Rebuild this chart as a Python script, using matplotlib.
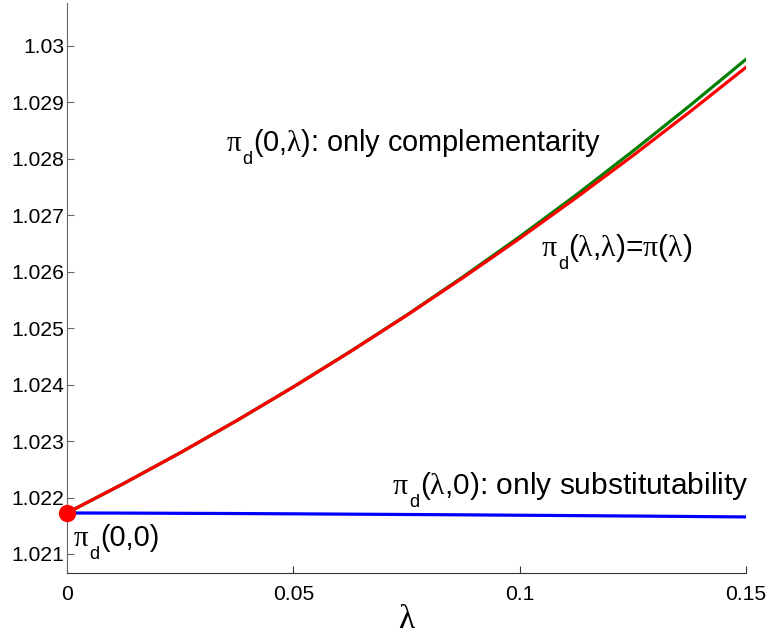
import matplotlib
matplotlib.use("Agg")
import matplotlib.pyplot as plt
import numpy as np

plt.rcParams['font.family'] = ['Liberation Sans', 'DejaVu Sans']
plt.rcParams['mathtext.fontset'] = 'custom'
plt.rcParams['mathtext.rm'] = 'Liberation Sans'
plt.rcParams['mathtext.it'] = 'Liberation Serif'
plt.rcParams['mathtext.default'] = 'it'

# lambda grid and the three curves
lam = [0, 0.0125, 0.025, 0.0375, 0.05, 0.0625, 0.075,
       0.0875, 0.1, 0.1125, 0.125, 0.1375, 0.15]
pi_0_lam = [1.021726, 1.022247, 1.022792, 1.023363, 1.023960, 1.024583, 1.025230,
            1.025911, 1.026621, 1.027362, 1.028137, 1.028938, 1.029765]
pi_lam_lam = [1.021726, 1.022247, 1.022792, 1.023363, 1.023958, 1.024580, 1.025225,
              1.025896, 1.026591, 1.027312, 1.028057, 1.028828, 1.029623]
pi_lam_0 = [1.021726, 1.021724, 1.021720, 1.021716, 1.021711, 1.021705, 1.021699,
            1.021693, 1.021686, 1.021679, 1.021672, 1.021664, 1.021656]
start_point = (0, 1.021726)

xticks = [0, 0.05, 0.1, 0.15]
xtick_labels = ['0', '0.05', '0.1', '0.15']
yticks = [1.021, 1.022, 1.023, 1.024, 1.025, 1.026, 1.027, 1.028, 1.029, 1.03]
ytick_labels = ['1.021', '1.022', '1.023', '1.024', '1.025', '1.026', '1.027',
                '1.028', '1.029', '1.03']

fig = plt.figure(figsize=(7.68, 6.36), dpi=100)
ax = fig.add_axes([0.0872, 0.0991, 0.8842, 0.8962])

ax.plot(lam, pi_0_lam, color='#008000', lw=2.3)
ax.plot(lam, pi_lam_lam, color='#ff0000', lw=2.3)
ax.plot(lam, pi_lam_0, color='#0000ff', lw=2.3)
ax.plot(*start_point, 'o', color='#ff0000', ms=11.5, clip_on=False, zorder=5)

ax.set_xlim(0, 0.15)
ax.set_ylim(1.020663, 1.030762)
ax.set_xticks(xticks)
ax.set_xticklabels(xtick_labels)
ax.set_yticks(yticks)
ax.set_yticklabels(ytick_labels)

for side in ['top', 'right']:
    ax.spines[side].set_visible(False)
ax.spines['left'].set_color('#666666')
ax.spines['bottom'].set_color('#333333')
ax.tick_params(axis='both', direction='in', length=5, labelsize=15.2)
ax.tick_params(axis='y', colors='#666666', labelcolor='black', pad=2)
ax.tick_params(axis='x', colors='#333333', labelcolor='black', pad=9)

ax.set_xlabel(r'$\lambda$', fontsize=24, labelpad=0)

fs = 20.8
sub_fs = 13
sub_dy = -9.5


def pi_d_label(x, y, rest, size=fs):
    # pi, a lowered "d", then the rest of the label on the same baseline
    t = ax.text(x, y, r'$\pi$', fontsize=size, va='baseline')
    d = ax.annotate('d', xy=(1, y), xycoords=(t, 'data'), xytext=(0.5, sub_dy),
                    textcoords='offset points', fontsize=sub_fs, va='baseline')
    ax.annotate(rest, xy=(1, y), xycoords=(d, 'data'), xytext=(0, 0),
                textcoords='offset points', fontsize=size, va='baseline')


pi_d_label(0.0351, 1.028146, r'(0,$\lambda$): only complementarity')
pi_d_label(0.1047, 1.02628, r'($\lambda$,$\lambda$)=$\pi$($\lambda$)', size=21.5)
pi_d_label(0.0718, 1.022063, r'($\lambda$,0): only substitutability', size=21.5)
pi_d_label(0.0013, 1.021142, '(0,0)')

fig.savefig('out.png', dpi=100)
